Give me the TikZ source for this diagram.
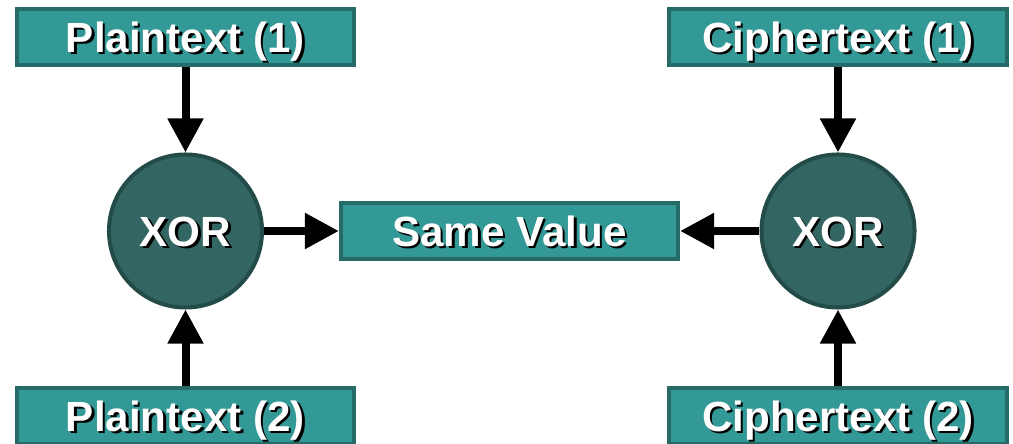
\documentclass[tikz,border=0pt]{standalone}
\usepackage{fontspec}
\setmainfont{Liberation Sans}
\usetikzlibrary{arrows.meta,positioning}
\definecolor{tealfill}{RGB}{51,153,150}
\definecolor{tealedge}{RGB}{38,107,103}
\definecolor{xorfill}{RGB}{51,102,99}
\definecolor{xoredge}{RGB}{35,76,73}
% white bold text with a small black drop shadow
\newcommand{\shadowtext}[1]{\leavevmode\rlap{\hspace{0.06cm}\raisebox{-0.06cm}{\color{black}#1}}#1}
\tikzset{
  basebox/.style={rectangle,text=white,align=center,font=\fontsize{30}{36}\selectfont\bfseries,text height=21.8pt,text depth=0pt},
  databox/.style={basebox,fill=tealfill,draw=tealedge,line width=0.1cm,minimum width=8.425cm,minimum height=1.4cm},
  xornode/.style={basebox,circle,fill=xorfill,draw=xoredge,line width=0.1cm,minimum size=3.825cm,inner sep=0pt},
  arr/.style={-{Triangle[length=0.85cm,width=0.85cm]},line width=0.2cm,color=black}
}
\begin{document}
\begin{tikzpicture}[x=0.025cm,y=-0.025cm]
  \useasboundingbox (0,0) rectangle (1013,444);
  % inputs and the two xor gates
  \node[xornode] (xorL) at (185.5,231) {\shadowtext{XOR}};
  \node[xornode] (xorR) at (838,231) {\shadowtext{XOR}};
  \node[databox] (plain1) at (185.5,37) {\shadowtext{Plaintext (1)}};
  \node[databox] (plain2) at (185.5,416) {\shadowtext{Plaintext (2)}};
  \node[databox] (cipher1) at (838,37) {\shadowtext{Ciphertext (1)}};
  \node[databox] (cipher2) at (838,416) {\shadowtext{Ciphertext (2)}};
  \node[databox] (same) at (509.5,231) {\shadowtext{Same Value}};
  \draw[arr] (plain1)--(xorL);
  \draw[arr] (plain2)--(xorL);
  \draw[arr] (cipher1)--(xorR);
  \draw[arr] (cipher2)--(xorR);
  \draw[arr] (xorL)--(same);
  \draw[arr] (xorR)--(same);
\end{tikzpicture}
\end{document}
